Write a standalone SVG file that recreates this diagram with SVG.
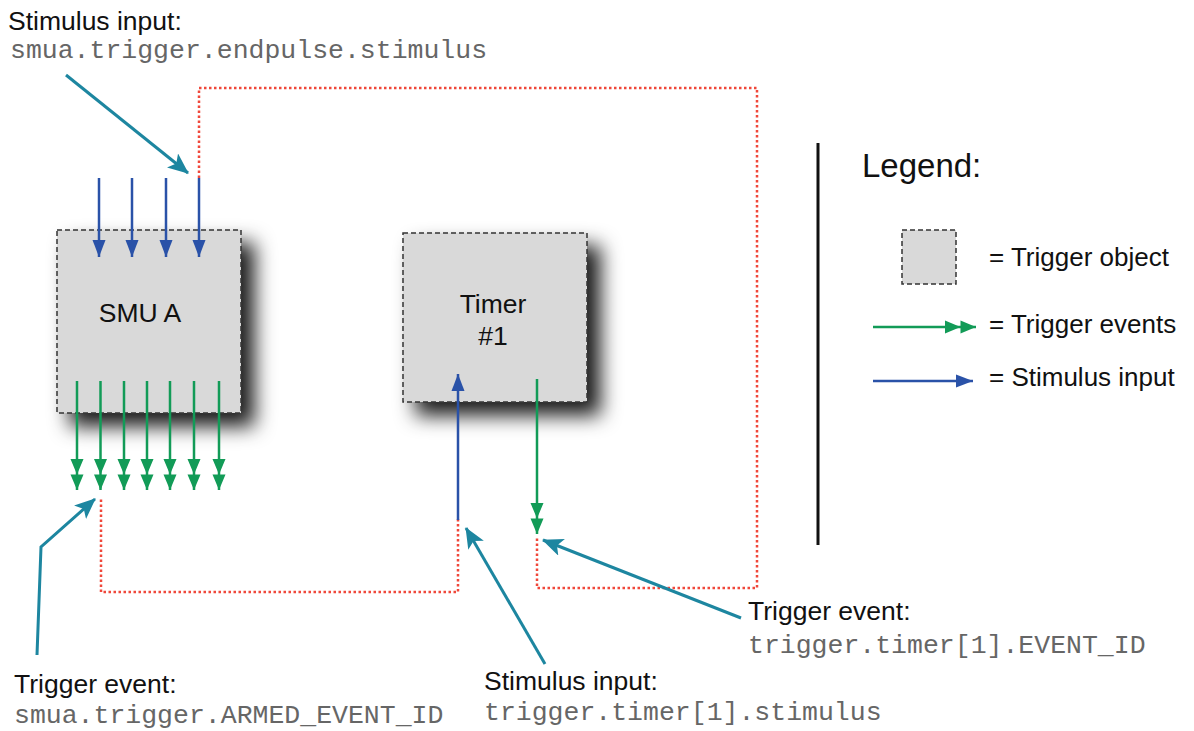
<svg xmlns="http://www.w3.org/2000/svg" width="1194" height="731" viewBox="0 0 1194 731">
<style>
.sans{font-family:"Liberation Sans",Arial,sans-serif;fill:#111}
.mono{font-family:"Liberation Mono","Courier New",monospace;fill:#666;font-size:26.5px}
.box{fill:#d9d9d9;stroke:#333;stroke-width:1.5;stroke-dasharray:5 3}
.blue{stroke:#2a52a8;stroke-width:2.5;fill:none;marker-end:url(#mb)}
.green{stroke:#129b57;stroke-width:2.5;fill:none;marker-end:url(#mg)}
.teal{stroke:#1d86a0;stroke-width:3;fill:none;marker-end:url(#mt)}
.red{stroke:#f0473a;stroke-width:2.5;fill:none;stroke-dasharray:2.5 2.5}
</style>
<defs>
<marker id="mb" markerUnits="userSpaceOnUse" markerWidth="18" markerHeight="14" refX="17" refY="7" orient="auto">
<path d="M0,0.5 L17,7 L0,13.5 z" fill="#2a52a8"/>
</marker>
<marker id="mg" markerUnits="userSpaceOnUse" markerWidth="32" markerHeight="14" refX="31" refY="7" orient="auto">
<path d="M0,0.5 L15.5,7 L0,13.5 z M15.5,0.5 L31,7 L15.5,13.5 z" fill="#129b57"/>
</marker>
<marker id="mt" markerUnits="userSpaceOnUse" markerWidth="22" markerHeight="18" refX="20" refY="9" orient="auto">
<path d="M0,0 L21,9 L0,18 L5,9 z" fill="#1d86a0"/>
</marker>
<filter id="sh" x="-20%" y="-20%" width="160%" height="160%">
<feDropShadow dx="13" dy="13" stdDeviation="10" flood-color="#000" flood-opacity="0.9"/>
</filter>
</defs>

<g id="smu-a">
<rect class="box" x="57" y="230" width="184" height="183" filter="url(#sh)"/>
<text class="sans" x="140" y="322" font-size="26.5" text-anchor="middle">SMU A</text>
</g>

<g id="timer-1">
<rect class="box" x="403" y="233" width="184" height="169" filter="url(#sh)"/>
<text class="sans" x="493" y="313" font-size="26.5" text-anchor="middle">Timer</text>
<text class="sans" x="493" y="345" font-size="26.5" text-anchor="middle">#1</text>
</g>

<g id="connectors">
<path class="red" d="M199,178 V88 H757 V588 H537 V537"/>
<path class="red" d="M458,519 V592 H101 V497"/>
<line class="blue" x1="99" y1="178" x2="99" y2="257"/>
<line class="blue" x1="132" y1="178" x2="132" y2="257"/>
<line class="blue" x1="166" y1="178" x2="166" y2="257"/>
<line class="blue" x1="199" y1="178" x2="199" y2="257"/>
<line class="green" x1="77" y1="381" x2="77" y2="490"/>
<line class="green" x1="100.5" y1="381" x2="100.5" y2="490"/>
<line class="green" x1="124" y1="381" x2="124" y2="490"/>
<line class="green" x1="147" y1="381" x2="147" y2="490"/>
<line class="green" x1="170" y1="381" x2="170" y2="490"/>
<line class="green" x1="194" y1="381" x2="194" y2="490"/>
<line class="green" x1="219" y1="381" x2="219" y2="490"/>
<line class="blue" x1="458" y1="520" x2="458" y2="374"/>
<line class="green" x1="537" y1="379" x2="537" y2="534"/>
<line class="teal" x1="66" y1="75" x2="188" y2="173"/>
<polyline class="teal" points="37,655 41,547 95,499"/>
<line class="teal" x1="545" y1="664" x2="466" y2="528"/>
<line class="teal" x1="741" y1="618" x2="543" y2="540"/>
</g>

<g id="label-smua-stimulus">
<text class="sans" x="8" y="30" font-size="26.5">Stimulus input:</text>
<text class="mono" x="10" y="58">smua.trigger.endpulse.stimulus</text>
</g>
<g id="label-smua-armed">
<text class="sans" x="14" y="693" font-size="26.5">Trigger event:</text>
<text class="mono" x="14" y="723">smua.trigger.ARMED_EVENT_ID</text>
</g>
<g id="label-timer-stimulus">
<text class="sans" x="484" y="690" font-size="26.5">Stimulus input:</text>
<text class="mono" x="484" y="720">trigger.timer[1].stimulus</text>
</g>
<g id="label-timer-event">
<text class="sans" x="748" y="620" font-size="26.5">Trigger event:</text>
<text class="mono" x="748" y="653">trigger.timer[1].EVENT_ID</text>
</g>

<g id="legend">
<line x1="818" y1="143" x2="818" y2="545" stroke="#111" stroke-width="3"/>
<text class="sans" x="862" y="177" font-size="33">Legend:</text>
<rect class="box" x="902" y="230" width="54" height="54"/>
<text class="sans" x="989" y="266" font-size="26">= Trigger object</text>
<line class="green" x1="873" y1="327" x2="976" y2="327"/>
<text class="sans" x="989" y="333" font-size="26">= Trigger events</text>
<line class="blue" x1="873" y1="381" x2="973" y2="381"/>
<text class="sans" x="989" y="386" font-size="26">= Stimulus input</text>
</g>
</svg>
